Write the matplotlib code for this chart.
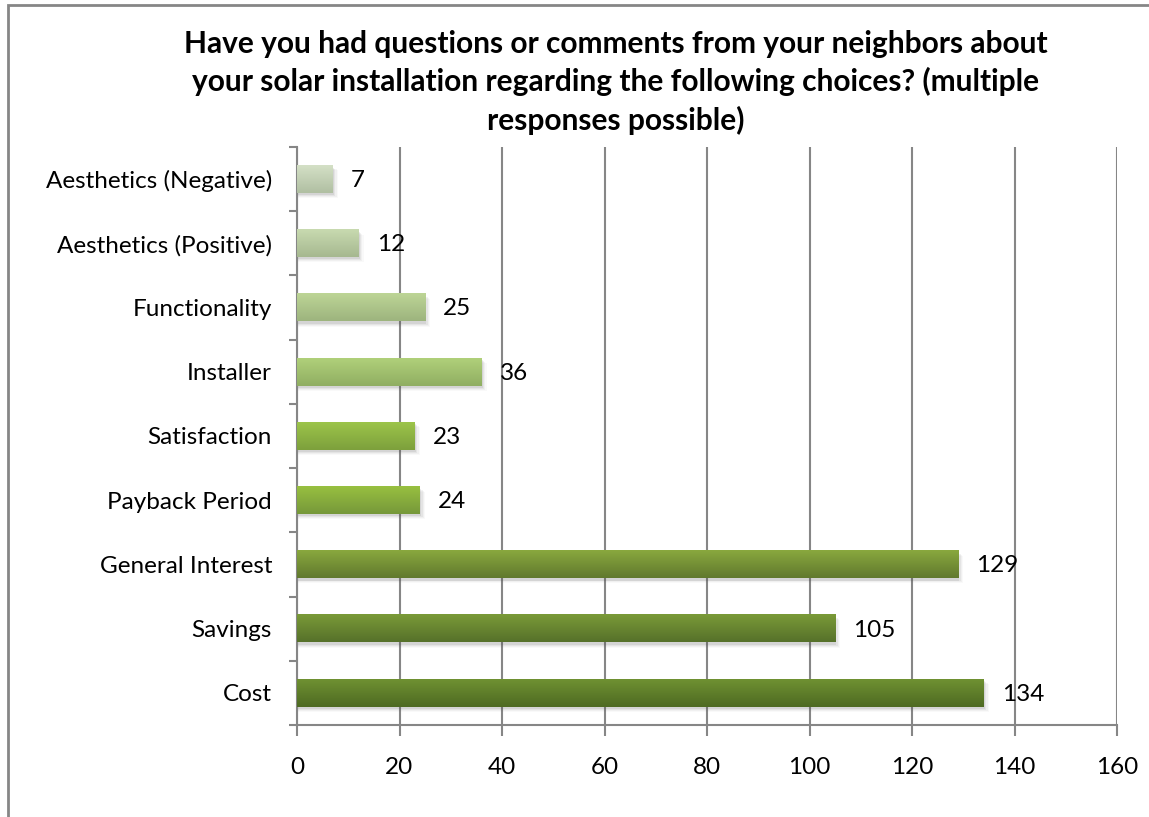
import numpy as np
import matplotlib.pyplot as plt
from matplotlib.colors import LinearSegmentedColormap
from matplotlib.patches import Rectangle

plt.rcParams['font.family'] = ['Lato', 'DejaVu Sans']

categories = ['Cost', 'Savings', 'General Interest', 'Payback Period', 'Satisfaction',
              'Installer', 'Functionality', 'Aesthetics (Positive)', 'Aesthetics (Negative)']
counts = [134, 105, 129, 24, 23, 36, 25, 12, 7]
# top / bottom shades of each bar's vertical gradient
bar_shades = [('#6f9132', '#4e6a22'),
              ('#7a9a38', '#56712a'),
              ('#89a83e', '#61792e'),
              ('#98c040', '#76983a'),
              ('#9cc44a', '#7da03c'),
              ('#b0d07a', '#90ae62'),
              ('#bdd596', '#9db47e'),
              ('#c8dab0', '#a6b890'),
              ('#d4e0c6', '#b0bfa2')]
title = ('Have you had questions or comments from your neighbors about\n'
         'your solar installation regarding the following choices? (multiple\n'
         'responses possible)')

fig = plt.figure(figsize=(11.49, 8.17), dpi=100)
ax = fig.add_axes([297 / 1149, 1 - 725 / 817, 820 / 1149, 578 / 817])

grid_c = '#868686'
bar_h = 0.43
y = np.arange(len(categories))

for i, (v, (c_top, c_bot)) in enumerate(zip(counts, bar_shades)):
    # soft drop shadow under each bar
    for k, a in enumerate([0.10, 0.07, 0.05, 0.03]):
        d = 0.015 * (k + 1)
        ax.add_patch(Rectangle((0, i - bar_h / 2 - d - 0.02), v + 0.25 * (k + 1), bar_h,
                               facecolor='#505050', alpha=a, edgecolor='none', zorder=2))
    cmap = LinearSegmentedColormap.from_list('g%d' % i, [c_bot, c_top])
    grad = np.linspace(0, 1, 64).reshape(-1, 1)
    ax.imshow(grad, cmap=cmap, aspect='auto', origin='lower', zorder=3,
              extent=(0, v, i - bar_h / 2, i + bar_h / 2))
    ax.annotate(str(v), (v, i), xytext=(13, -1), textcoords='offset points',
                ha='left', va='center', fontsize=17.5, color='black', zorder=5)

ax.set_xlim(0, 160)
ax.set_ylim(-0.5, len(categories) - 0.5)
ax.set_xticks(np.arange(0, 161, 20))
ax.set_yticks(y)
ax.set_yticklabels(categories)
ax.set_yticks(np.arange(-0.5, len(categories), 1), minor=True)
ax.tick_params(axis='y', which='major', length=0, pad=18, labelsize=17.5)
ax.tick_params(axis='y', which='minor', length=6, width=1.5, color=grid_c)
ax.tick_params(axis='x', length=8, width=1.5, color=grid_c, pad=15, labelsize=17.5)
ax.grid(axis='x', color=grid_c, linewidth=1.5, zorder=0)
ax.set_axisbelow(True)
for s in ['top', 'right']:
    ax.spines[s].set_visible(False)
for s in ['left', 'bottom']:
    ax.spines[s].set_color(grid_c)
    ax.spines[s].set_linewidth(1.5)

fig.text(616 / 1149, 1 - 30 / 817, title, ha='center', va='top', fontsize=21.5,
         fontweight='bold', linespacing=1.38)

# chart area frame (left and top edges)
fig.patches.append(Rectangle((8 / 1149, -0.1), 1.2, 1 - 5 / 817 + 0.1, transform=fig.transFigure,
                             fill=False, edgecolor='#868686', linewidth=2))

fig.savefig('out.png', dpi=100)
